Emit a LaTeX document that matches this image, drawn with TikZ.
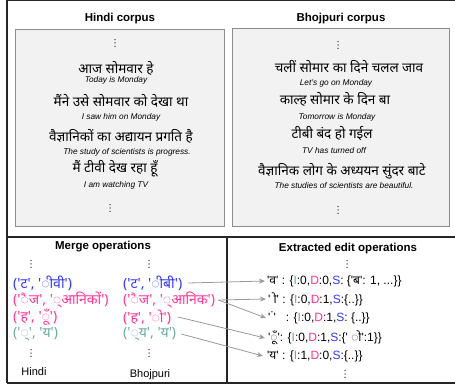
\documentclass[tikz,border=0pt]{standalone}
\usepackage{fontspec}
\setmainfont{Liberation Sans}[Ligatures=TeXOff]
\newfontfamily\dev{Noto Sans}[Script=Devanagari,Ligatures=TeXOff]
\usetikzlibrary{arrows.meta}
\definecolor{opblue}{HTML}{3333FF}
\definecolor{oppink}{HTML}{FF3399}
\definecolor{opteal}{HTML}{67AB9F}
\definecolor{boxfill}{HTML}{F2F2F2}
\definecolor{boxline}{HTML}{8C8C8C}
\definecolor{arrowgray}{HTML}{999999}
\newcommand{\opI}{{\color{opteal}I}}
\newcommand{\opD}{{\color{oppink}D}}
\newcommand{\opS}{{\color{opblue}S}}
\newcommand{\nbsp}{\char"00A0 }
\begin{document}
\begin{tikzpicture}[x=1pt,y=-1pt,
  heading/.style={inner sep=0pt, font=\bfseries\fontsize{11.5}{13}\selectfont},
  hin/.style={inner sep=0pt, font=\dev\fontsize{13.5}{15}\selectfont},
  eng/.style={inner sep=0pt, font=\itshape\fontsize{8.3}{10}\selectfont},
  merge/.style={inner sep=0pt, anchor=west, font=\dev\fontsize{14}{15}\selectfont},
  editop/.style={inner sep=0pt, anchor=west, font=\fontsize{12}{13}\selectfont},
  label/.style={inner sep=0pt, font=\fontsize{11}{13}\selectfont},
  vdotsmark/.pic={\foreach \k in {-1,0,1} \fill[black!75] (0,\k*3.3) circle (0.75pt);},
  corpus/.style={fill=boxfill, draw=boxline, line width=1pt},
  frame/.style={draw=black!85, line width=1.2pt},
  link/.style={draw=arrowgray, line width=0.8pt, -{Stealth[length=6pt,width=5pt]}}]
\useasboundingbox (0,0) rectangle (455,387);

% outer frame and the split of the lower half
\draw[frame] (7,0.6) -- (455,0.6);
\draw[frame] (7,0) -- (7,383);
\draw[frame] (7,237) -- (455,237);
\draw[frame] (227,237) -- (227,383);
\draw[frame] (7,383) -- (455,383);

% corpora
\draw[corpus] (15,30) rectangle (224,227);
\draw[corpus] (232,29) rectangle (449,227);
\node[heading] (thin) at (120,19) {Hindi corpus};
\node[heading] (tbho) at (341,19) {Bhojpuri corpus};

\pic at (115,43) {vdotsmark};
\node[hin] (h1) at (116,68) {आज सोमवार हे};
\node[eng] (he1) at (116,80) {Today is Monday};
\node[hin] (h2) at (121,101) {मैंने उसे सोमवार को देखा था};
\node[eng] (he2) at (121,117) {I saw him on Monday};
\node[hin] (h3) at (121,136) {वैज्ञानिकों का अद्यायन प्रगति है};
\node[eng] (he3) at (127,152) {The study of scientists is progress.};
\node[hin] (h4) at (115,169) {मैं टीवी देख रहा हूँ};
\node[eng] (he4) at (116,185) {I am watching TV};
\pic at (110,208) {vdotsmark};

\pic at (338,45) {vdotsmark};
\node[hin] (b1) at (349,67) {चलीं सोमार का दिने चलल जाव};
\node[eng] (be1) at (336,83) {Let’s go on Monday};
\node[hin] (b2) at (335,99) {काल्ह सोमार के दिन बा};
\node[eng] (be2) at (337,117) {Tomorrow is Monday};
\node[hin] (b3) at (332,134) {टीबी बंद हो गईल};
\node[eng] (be3) at (334,151) {TV has turned off};
\node[hin] (b4) at (342,171) {वैज्ञानिक लोग के अध्ययन सुंदर बाटे};
\node[eng] (be4) at (344,186) {The studies of scientists are beautiful.};
\pic at (338,210) {vdotsmark};

% merge operations
\node[heading] (tmerge) at (103,247) {Merge operations};
\pic at (31,264) {vdotsmark};
\pic at (149,264) {vdotsmark};
\node[merge, text=opblue] (mh1) at (13,283) {('ट', 'ीवी')};
\node[merge, text=oppink] (mh2) at (13,300) {('ैज', '्आनिकों')};
\node[merge, text=oppink] (mh3) at (13,317) {('ह', 'ूँ')};
\node[merge, text=opteal] (mh4) at (13,334) {('्', 'य')};
\node[merge, text=opblue] (mb1) at (123,283) {('ट', 'ीबी')};
\node[merge, text=oppink] (mb2) at (123,300) {('ैज', '्आनिक')};
\node[merge, text=oppink] (mb3) at (123,317) {('ह', 'ो')};
\node[merge, text=opteal] (mb4) at (123,334) {('्य', 'य')};
\pic at (31,353) {vdotsmark};
\pic at (149,353) {vdotsmark};
\node[label] (lhin) at (34,372) {Hindi};
\node[label] (lbho) at (150,375) {Bhojpuri};

% extracted edit operations
\node[heading] (tedit) at (348,249) {Extracted edit operations};
\pic at (347,264) {vdotsmark};
\node[editop] (e1) at (267,281) {'{\dev व}' : \{\opI:0,\opD:0,\opS: \{'{\dev ब}': 1, ...\}\}};
\node[editop] (e2) at (268,299) {'{\dev\nbsp ो}' : \{\opI:0,\opD:1,\opS:\{..\}\}};
\node[editop] (e3) at (268,318) {'{\dev\nbsp ं}'\ \ \ : \{\opI:0,\opD:1,\opS: \{..\}\}};
\node[editop] (e4) at (268,338) {'{\dev ूँ}': \{\opI:0,\opD:1,\opS:\{' {\dev ो}':1\}\}};
\node[editop] (e5) at (267,356) {'{\dev य}' : \{\opI:1,\opD:0,\opS:\{..\}\}};
\pic at (345,374) {vdotsmark};

% merge pairs to the edits they give
\draw[link] ([xshift=6pt]mb1.east) -- ([xshift=-2pt]e1.west);
\draw[link] ([xshift=3pt]mb2.east) -- ([xshift=-2pt]e2.west);
\draw[link] ([xshift=3pt]mb2.east) -- ([xshift=-2pt]e3.west);
\draw[link] ([xshift=7pt]mb3.east) -- ([xshift=-3pt]e4.west);
\draw[link] ([xshift=5pt]mb4.east) -- ([xshift=-4pt]e5.west);
\end{tikzpicture}
\end{document}
